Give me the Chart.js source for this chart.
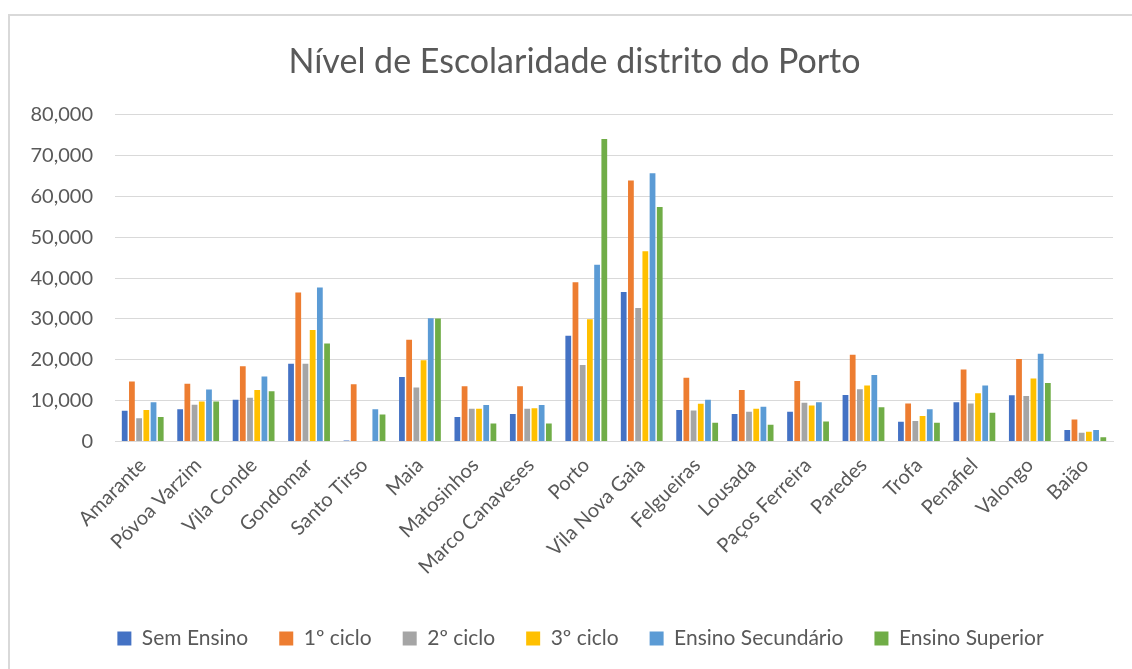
<!DOCTYPE html>
<html>
<head>
<meta charset="utf-8">
<script src="https://cdn.jsdelivr.net/npm/chart.js@4/dist/chart.umd.min.js"></script>
<style>
  html, body { margin: 0; padding: 0; background: #fff; overflow: hidden; }
  #frame { position: absolute; left: 8px; top: 14px; width: 1140px; height: 680px; border: 2px solid #d9d9d9; box-sizing: border-box; }
  #wrap { position: absolute; left: 0; top: 0; width: 1132px; height: 669px; }
</style>
</head>
<body>
<div id="frame"></div>
<div id="wrap"><canvas id="myChart"></canvas></div>

<script>
	var concelhos = ["Amarante", "Póvoa Varzim", "Vila Conde", "Gondomar", "Santo Tirso", "Maia", "Matosinhos",
	    "Marco Canaveses", "Porto", "Vila Nova Gaia", "Felgueiras", "Lousada", "Paços Ferreira", "Paredes",
	    "Trofa", "Penafiel", "Valongo", "Baião"];

	var semEnsino   = [7500, 7900, 10200, 19000, 200, 15800, 6000, 6700, 25900, 36600, 7700, 6700, 7300, 11400, 4800, 9600, 11300, 2800];
	var ciclo1      = [14700, 14100, 18400, 36500, 14000, 24900, 13500, 13500, 39000, 63900, 15600, 12600, 14800, 21200, 9300, 17600, 20200, 5400];
	var ciclo2      = [5700, 9000, 10700, 19000, 0, 13200, 8000, 8000, 18700, 32700, 7600, 7300, 9500, 12800, 5000, 9300, 11100, 2100];
	var ciclo3      = [7700, 9800, 12600, 27300, 0, 19900, 8000, 8100, 29900, 46600, 9200, 8000, 8800, 13700, 6200, 11800, 15400, 2400];
	var secundario  = [9600, 12700, 15900, 37700, 7900, 30200, 8900, 8900, 43300, 65700, 10200, 8500, 9600, 16300, 7900, 13700, 21500, 2800];
	var superior    = [6000, 9800, 12300, 24000, 6600, 30100, 4400, 4400, 74100, 57400, 4600, 4100, 4900, 8400, 4600, 7000, 14300, 1000];

	var yTicks = [0, 10000, 20000, 30000, 40000, 50000, 60000, 70000, 80000];

	Chart.defaults.font.family = "Lato, 'Open Sans', sans-serif";
	Chart.defaults.color = '#595959';

	function serie(label, data, cor) {
	    return { label: label, data: data, backgroundColor: cor, borderWidth: 0,
	             barPercentage: 0.8, categoryPercentage: 0.78 };
	}

	// nudge title and legend a little to the right, like the original
	var nudge = {
	    id: 'nudge',
	    afterLayout: function (chart) {
	        chart.titleBlock.left += 8; chart.titleBlock.right += 8;
	        chart.legend.left += 14; chart.legend.right += 14;
	    }
	};

	var ctx = document.getElementById('myChart').getContext('2d');
	var chart = new Chart(ctx, {
	    type: 'bar',
	    data: {
	        labels: concelhos,
	        datasets: [
	            serie("Sem Ensino", semEnsino, '#4472C4'),
	            serie("1º ciclo", ciclo1, '#ED7D31'),
	            serie("2º ciclo", ciclo2, '#A5A5A5'),
	            serie("3º ciclo", ciclo3, '#FFC000'),
	            serie("Ensino Secundário", secundario, '#5B9BD5'),
	            serie("Ensino Superior", superior, '#70AD47')
	        ]
	    },
	    plugins: [nudge],
	    options: {
	        responsive: true,
	        maintainAspectRatio: false,
	        animation: false,
	        layout: { padding: { left: 20, right: 19, top: 38, bottom: 10 } },
	        plugins: {
	            title: {
	                display: true,
	                text: "Nível de Escolaridade distrito do Porto",
	                font: { size: 34, weight: 'normal' },
	                color: '#595959',
	                padding: { top: 4, bottom: 32 }
	            },
	            legend: {
	                position: 'bottom',
	                labels: { boxWidth: 14, boxHeight: 14, font: { size: 21 }, padding: 31 }
	            },
	            tooltip: { enabled: false }
	        },
	        scales: {
	            x: {
	                grid: { display: false },
	                border: { color: '#d9d9d9' },
	                afterFit: function (axis) { axis.height += 14; },
	                ticks: { font: { size: 20 }, maxRotation: 45, minRotation: 45, autoSkip: false, padding: 4 }
	            },
	            y: {
	                min: 0,
	                max: 80000,
	                afterBuildTicks: function (axis) { axis.ticks = yTicks.map(function (v) { return { value: v }; }); },
	                afterFit: function (axis) { axis.width = 95; },
	                grid: { color: '#d9d9d9', drawTicks: false },
	                border: { display: false },
	                ticks: {
	                    font: { size: 20 },
	                    padding: 22,
	                    callback: function (v) { return v.toLocaleString('en-US'); }
	                }
	            }
	        }
	    }
	});
</script>
</body>
</html>
